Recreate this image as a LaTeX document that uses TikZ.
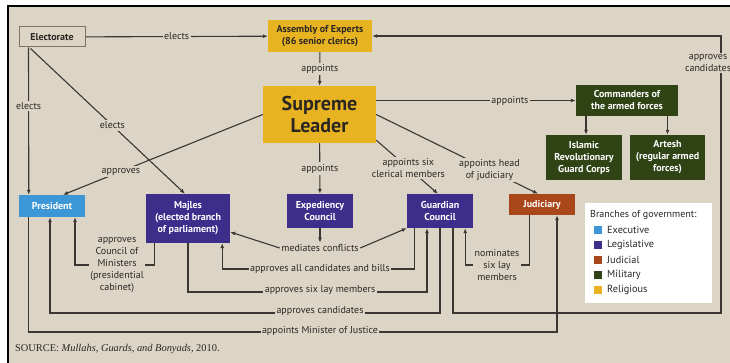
\documentclass[tikz,border=0pt]{standalone}
\usepackage{fontspec}
\setmainfont{PT Sans}
\newfontfamily\srcfont{Liberation Serif}
\usetikzlibrary{arrows.meta, positioning, calc}
\definecolor{cBg}{HTML}{DCD5C6}
\definecolor{cLine}{HTML}{3A3631}
\definecolor{cText}{HTML}{2A2622}
\definecolor{cYellow}{HTML}{E8B321}
\definecolor{cGreen}{HTML}{2F4315}
\definecolor{cPurple}{HTML}{3D2E8C}
\definecolor{cBlue}{HTML}{3D96D5}
\definecolor{cRust}{HTML}{A9471B}
\definecolor{cEdge}{HTML}{7C7569}
\tikzset{
  box/.style={
    rectangle, fill=#1, draw=none, inner sep=1pt, align=center,
    text=white, font=\fontsize{10}{12}\selectfont\bfseries
  },
  ybox/.style={box=cYellow, text=cText},
  gbox/.style={box=cGreen},
  pbox/.style={box=cPurple},
  bbox/.style={box=cBlue},
  rbox/.style={box=cRust},
  arr/.style={-{Latex[length=5pt,width=4pt]}, line width=1.1pt, draw=cLine},
  lbl/.style={fill=cBg, inner sep=1.5pt, align=center, text=cText,
    font=\fontsize{10}{12}\selectfont},
  key/.style={rectangle, fill=#1, minimum size=8pt, inner sep=0pt},
  keytxt/.style={anchor=west, inner sep=0pt, text=cText,
    font=\fontsize{10.3}{12}\selectfont},
}
\begin{document}
\begin{tikzpicture}[x=1pt, y=-1pt]
  \useasboundingbox (0,0) rectangle (730,363);
  \fill[white] (0,0) rectangle (730,363);
  \fill[cBg] (8,6) rectangle (730,363);
  \draw[line width=1.4pt, black] (730,6) -- (8,6) -- (8,363);

  % boxes
  \node[rectangle, draw=cEdge, line width=1pt, fill=cBg, text=cText,
    font=\fontsize{10}{12}\selectfont\bfseries,
    minimum width=66pt, minimum height=20pt] (elect) at (52,37) {Electorate};
  \node[ybox, minimum width=104pt, minimum height=32pt] (assembly) at (320,36)
    {Assembly of Experts\\(86 senior clerics)};
  \node[ybox, minimum width=113pt, minimum height=57pt,
    font=\fontsize{20}{22}\selectfont\bfseries] (leader) at (319.5,114.5)
    {Supreme\\Leader};
  \node[gbox, minimum width=102pt, minimum height=31pt] (commanders) at (627,100.5)
    {Commanders of\\the armed forces};
  \node[gbox, minimum width=76pt, minimum height=45pt] (irgc) at (584,157.5)
    {Islamic\\Revolutionary\\Guard Corps};
  \node[gbox, minimum width=75pt, minimum height=45pt] (artesh) at (667.5,157.5)
    {Artesh\\(regular armed\\forces)};
  \node[bbox, minimum width=66pt, minimum height=22pt] (president) at (52,206)
    {President};
  \node[pbox, minimum width=84pt, minimum height=49pt] (majles) at (188,218.5)
    {Majles\\(elected branch\\of parliament)};
  \node[pbox, minimum width=66pt, minimum height=34pt] (expediency) at (320,211)
    {Expediency\\Council};
  \node[pbox, minimum width=66pt, minimum height=34pt] (guardian) at (440,211)
    {Guardian\\Council};
  \node[rbox, minimum width=66pt, minimum height=21pt] (judiciary) at (542,204.5)
    {Judiciary};

  % electorate
  \draw[arr] (elect) -- (assembly) node[lbl, midway] {elects};
  \draw[arr] ($(elect.south west)+(10,0)$) -- ($(president.north west)+(10,0)$)
    node[lbl, pos=0.4] {elects};
  \draw[arr] ($(elect.south west)+(12,1)$) -- ($(majles.north)+(-3,0)$)
    node[lbl, pos=0.53] {elects};

  % supreme leader
  \draw[arr] (assembly) -- (leader) node[lbl, midway] {appoints};
  \draw[arr] (leader.west) -- ($(president.north)+(11,0)$)
    node[lbl, pos=0.71] {approves};
  \draw[arr] (leader) -- (expediency) node[lbl, pos=0.5] {appoints};
  \draw[arr] ($(leader.south east)+(0,-3)$) -- ($(guardian.north)+(-2,0)$)
    node[lbl, pos=0.52] {appoints six\\clerical members};
  \draw[arr] (leader.east) -- ($(judiciary.north)+(-4,0)$)
    node[lbl, pos=0.7] {appoints head\\of judiciary};
  \draw[arr] (commanders.west -| leader.east) -- (commanders.west)
    node[lbl, pos=0.67] {appoints};
  \draw[arr] ($(commanders.south -| irgc.north)+(2,0)$) -- ($(irgc.north)+(2,0)$);
  \draw[arr] (commanders.south -| artesh.north) -- (artesh.north);

  % guardian council to assembly
  \coordinate (rbend) at (721,313);
  \draw[arr] ($(guardian.south)+(13,0)$) |- (rbend) |- (assembly.east);
  \node[lbl] (apprc) at (708,63) {approves\\candidates};

  % expediency council
  \node[lbl] (med) at (320,248) {mediates conflicts};
  \draw[arr] (expediency) -- (med);
  \draw[arr] (med.west) -- ($(majles.east)+(0,13.5)$);
  \draw[arr] (med.east) -- (guardian.south west);

  % lower loops
  \draw[arr] ($(majles.south west)+(9,0)$) |- (117,265) -| ($(president.south)+(23,0)$);
  \node[lbl] at (117,265) {approves\\Council of\\Ministers\\(presidential\\cabinet)};
  \draw[arr] ($(guardian.south west)+(8,0)$) |- (320,269) -| ($(majles.south east)+(-8,0)$);
  \node[lbl] at (320,269) {approves all candidates and bills};
  \draw[arr] (majles.south) |- (320,292) -| ($(guardian.south)+(-13,0)$);
  \node[lbl] at (320,290) {approves six lay members};
  \draw[arr] (guardian.south) |- (320,313) -| ($(president.south)+(-2,0)$);
  \node[lbl] at (320,311) {approves candidates};
  \draw[arr] ($(president.south west)+(10,0)$) |- (320,332) -| ($(judiciary.south)+(15,0)$);
  \node[lbl] at (320,331) {appoints Minister of Justice};
  \draw[arr] ($(judiciary.south west)+(21,0)$) |- (497,265) -| ($(guardian.south east)+(-8,0)$);
  \node[lbl] at (497,265) {nominates\\six lay\\members};

  % legend
  \node[rectangle, fill=white, minimum width=127pt, minimum height=100pt,
    anchor=north west] (legend) at (585,203) {};
  \node[keytxt, font=\fontsize{10}{12}\selectfont] (ltitle) at (590,215)
    {Branches of government:};
  \node[key=cBlue] (k1) at (598,230) {};
  \node[keytxt] at (607,230) {Executive};
  \node[key=cPurple] (k2) at (598,245) {};
  \node[keytxt] at (607,245) {Legislative};
  \node[key=cRust] (k3) at (598,260) {};
  \node[keytxt] at (607,260) {Judicial};
  \node[key=cGreen] (k4) at (598,275) {};
  \node[keytxt] at (607,275) {Military};
  \node[key=cYellow] (k5) at (598,290) {};
  \node[keytxt] at (607,290) {Religious};

  \node[anchor=west, inner sep=0pt, text=cText, font=\srcfont\fontsize{10.4}{12}\selectfont]
    (source) at (15,349) {SOURCE: \textit{Mullahs, Guards, and Bonyads}, 2010.};
\end{tikzpicture}
\end{document}
